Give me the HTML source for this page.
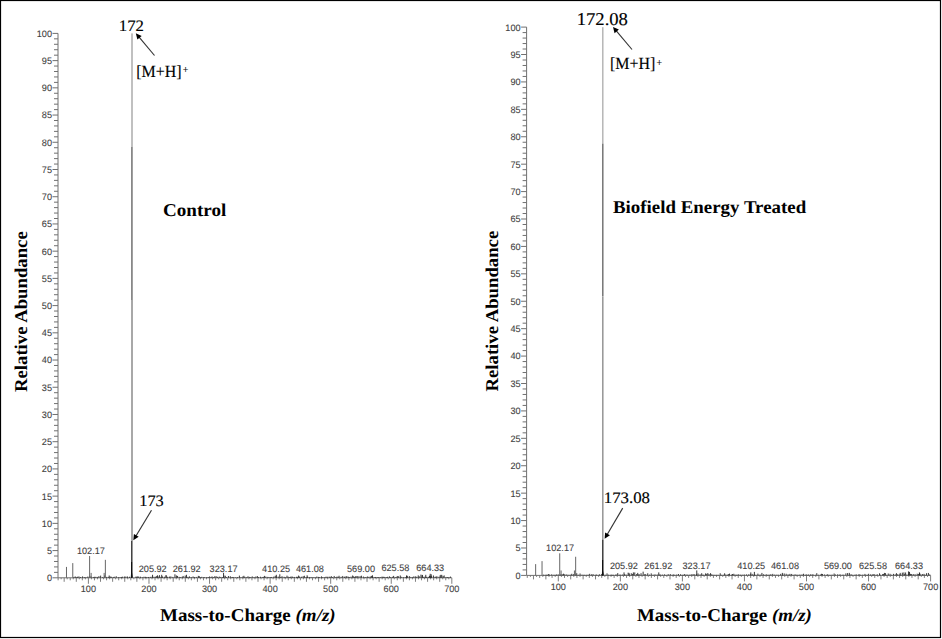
<!DOCTYPE html>
<html><head><meta charset="utf-8"><title>Mass spectra</title>
<style>
html,body{margin:0;padding:0;background:#fff;}
body{width:942px;height:639px;overflow:hidden;position:relative;}
svg{position:absolute;left:0;top:0;display:block;text-rendering:geometricPrecision;}
</style></head><body>
<svg width="942" height="639" viewBox="0 0 942 639">
<rect x="0" y="0" width="942" height="639" fill="#fff"/>
<rect x="0.5" y="0.5" width="940" height="637" fill="none" stroke="#000" stroke-width="1.2"/>
<line x1="58" y1="33.4" x2="58" y2="577.8" stroke="#707070" stroke-width="1"/>
<path d="M52.5 577.8H58M54 572.36H58M54 566.91H58M54 561.47H58M54 556.02H58M52.5 550.58H58M54 545.14H58M54 539.69H58M54 534.25H58M54 528.8H58M52.5 523.36H58M54 517.92H58M54 512.47H58M54 507.03H58M54 501.58H58M52.5 496.14H58M54 490.7H58M54 485.25H58M54 479.81H58M54 474.36H58M52.5 468.92H58M54 463.48H58M54 458.03H58M54 452.59H58M54 447.14H58M52.5 441.7H58M54 436.26H58M54 430.81H58M54 425.37H58M54 419.92H58M52.5 414.48H58M54 409.04H58M54 403.59H58M54 398.15H58M54 392.7H58M52.5 387.26H58M54 381.82H58M54 376.37H58M54 370.93H58M54 365.48H58M52.5 360.04H58M54 354.6H58M54 349.15H58M54 343.71H58M54 338.26H58M52.5 332.82H58M54 327.38H58M54 321.93H58M54 316.49H58M54 311.04H58M52.5 305.6H58M54 300.16H58M54 294.71H58M54 289.27H58M54 283.82H58M52.5 278.38H58M54 272.94H58M54 267.49H58M54 262.05H58M54 256.6H58M52.5 251.16H58M54 245.72H58M54 240.27H58M54 234.83H58M54 229.38H58M52.5 223.94H58M54 218.5H58M54 213.05H58M54 207.61H58M54 202.16H58M52.5 196.72H58M54 191.28H58M54 185.83H58M54 180.39H58M54 174.94H58M52.5 169.5H58M54 164.06H58M54 158.61H58M54 153.17H58M54 147.72H58M52.5 142.28H58M54 136.84H58M54 131.39H58M54 125.95H58M54 120.5H58M52.5 115.06H58M54 109.62H58M54 104.17H58M54 98.73H58M54 93.28H58M52.5 87.84H58M54 82.4H58M54 76.95H58M54 71.51H58M54 66.06H58M52.5 60.62H58M54 55.18H58M54 49.73H58M54 44.29H58M54 38.84H58M52.5 33.4H58" stroke="#707070" stroke-width="1" fill="none"/>
<text transform="translate(52 581.2) scale(0.976 1)" font-family="'Liberation Sans', Arial, sans-serif" font-size="9.4" fill="#404040" text-anchor="end" stroke="#444" stroke-width="0.1">0</text><text transform="translate(52 553.98) scale(0.976 1)" font-family="'Liberation Sans', Arial, sans-serif" font-size="9.4" fill="#404040" text-anchor="end" stroke="#444" stroke-width="0.1">5</text><text transform="translate(52 526.76) scale(0.976 1)" font-family="'Liberation Sans', Arial, sans-serif" font-size="9.4" fill="#404040" text-anchor="end" stroke="#444" stroke-width="0.1">10</text><text transform="translate(52 499.54) scale(0.976 1)" font-family="'Liberation Sans', Arial, sans-serif" font-size="9.4" fill="#404040" text-anchor="end" stroke="#444" stroke-width="0.1">15</text><text transform="translate(52 472.32) scale(0.976 1)" font-family="'Liberation Sans', Arial, sans-serif" font-size="9.4" fill="#404040" text-anchor="end" stroke="#444" stroke-width="0.1">20</text><text transform="translate(52 445.1) scale(0.976 1)" font-family="'Liberation Sans', Arial, sans-serif" font-size="9.4" fill="#404040" text-anchor="end" stroke="#444" stroke-width="0.1">25</text><text transform="translate(52 417.88) scale(0.976 1)" font-family="'Liberation Sans', Arial, sans-serif" font-size="9.4" fill="#404040" text-anchor="end" stroke="#444" stroke-width="0.1">30</text><text transform="translate(52 390.66) scale(0.976 1)" font-family="'Liberation Sans', Arial, sans-serif" font-size="9.4" fill="#404040" text-anchor="end" stroke="#444" stroke-width="0.1">35</text><text transform="translate(52 363.44) scale(0.976 1)" font-family="'Liberation Sans', Arial, sans-serif" font-size="9.4" fill="#404040" text-anchor="end" stroke="#444" stroke-width="0.1">40</text><text transform="translate(52 336.22) scale(0.976 1)" font-family="'Liberation Sans', Arial, sans-serif" font-size="9.4" fill="#404040" text-anchor="end" stroke="#444" stroke-width="0.1">45</text><text transform="translate(52 309) scale(0.976 1)" font-family="'Liberation Sans', Arial, sans-serif" font-size="9.4" fill="#404040" text-anchor="end" stroke="#444" stroke-width="0.1">50</text><text transform="translate(52 281.78) scale(0.976 1)" font-family="'Liberation Sans', Arial, sans-serif" font-size="9.4" fill="#404040" text-anchor="end" stroke="#444" stroke-width="0.1">55</text><text transform="translate(52 254.56) scale(0.976 1)" font-family="'Liberation Sans', Arial, sans-serif" font-size="9.4" fill="#404040" text-anchor="end" stroke="#444" stroke-width="0.1">60</text><text transform="translate(52 227.34) scale(0.976 1)" font-family="'Liberation Sans', Arial, sans-serif" font-size="9.4" fill="#404040" text-anchor="end" stroke="#444" stroke-width="0.1">65</text><text transform="translate(52 200.12) scale(0.976 1)" font-family="'Liberation Sans', Arial, sans-serif" font-size="9.4" fill="#404040" text-anchor="end" stroke="#444" stroke-width="0.1">70</text><text transform="translate(52 172.9) scale(0.976 1)" font-family="'Liberation Sans', Arial, sans-serif" font-size="9.4" fill="#404040" text-anchor="end" stroke="#444" stroke-width="0.1">75</text><text transform="translate(52 145.68) scale(0.976 1)" font-family="'Liberation Sans', Arial, sans-serif" font-size="9.4" fill="#404040" text-anchor="end" stroke="#444" stroke-width="0.1">80</text><text transform="translate(52 118.46) scale(0.976 1)" font-family="'Liberation Sans', Arial, sans-serif" font-size="9.4" fill="#404040" text-anchor="end" stroke="#444" stroke-width="0.1">85</text><text transform="translate(52 91.24) scale(0.976 1)" font-family="'Liberation Sans', Arial, sans-serif" font-size="9.4" fill="#404040" text-anchor="end" stroke="#444" stroke-width="0.1">90</text><text transform="translate(52 64.02) scale(0.976 1)" font-family="'Liberation Sans', Arial, sans-serif" font-size="9.4" fill="#404040" text-anchor="end" stroke="#444" stroke-width="0.1">95</text><text transform="translate(52 36.8) scale(0.976 1)" font-family="'Liberation Sans', Arial, sans-serif" font-size="9.4" fill="#404040" text-anchor="end" stroke="#444" stroke-width="0.1">100</text>
<line x1="58" y1="577.8" x2="451.82" y2="577.8" stroke="#707070" stroke-width="1"/>
<path d="M58.12 577.8V580.3M61.14 577.8V579.3M64.17 577.8V581.8M67.2 577.8V579.3M70.23 577.8V580.3M73.26 577.8V579.3M76.29 577.8V581.8M79.31 577.8V579.3M82.34 577.8V580.3M85.37 577.8V579.3M88.4 577.8V583.8M91.43 577.8V579.3M94.46 577.8V580.3M97.49 577.8V579.3M100.51 577.8V581.8M103.54 577.8V579.3M106.57 577.8V580.3M109.6 577.8V579.3M112.63 577.8V581.8M115.66 577.8V579.3M118.69 577.8V580.3M121.71 577.8V579.3M124.74 577.8V581.8M127.77 577.8V579.3M130.8 577.8V580.3M133.83 577.8V579.3M136.86 577.8V581.8M139.88 577.8V579.3M142.91 577.8V580.3M145.94 577.8V579.3M148.97 577.8V583.8M152 577.8V579.3M155.03 577.8V580.3M158.06 577.8V579.3M161.08 577.8V581.8M164.11 577.8V579.3M167.14 577.8V580.3M170.17 577.8V579.3M173.2 577.8V581.8M176.23 577.8V579.3M179.25 577.8V580.3M182.28 577.8V579.3M185.31 577.8V581.8M188.34 577.8V579.3M191.37 577.8V580.3M194.4 577.8V579.3M197.43 577.8V581.8M200.45 577.8V579.3M203.48 577.8V580.3M206.51 577.8V579.3M209.54 577.8V583.8M212.57 577.8V579.3M215.6 577.8V580.3M218.63 577.8V579.3M221.65 577.8V581.8M224.68 577.8V579.3M227.71 577.8V580.3M230.74 577.8V579.3M233.77 577.8V581.8M236.8 577.8V579.3M239.83 577.8V580.3M242.85 577.8V579.3M245.88 577.8V581.8M248.91 577.8V579.3M251.94 577.8V580.3M254.97 577.8V579.3M258 577.8V581.8M261.02 577.8V579.3M264.05 577.8V580.3M267.08 577.8V579.3M270.11 577.8V583.8M273.14 577.8V579.3M276.17 577.8V580.3M279.2 577.8V579.3M282.22 577.8V581.8M285.25 577.8V579.3M288.28 577.8V580.3M291.31 577.8V579.3M294.34 577.8V581.8M297.37 577.8V579.3M300.39 577.8V580.3M303.42 577.8V579.3M306.45 577.8V581.8M309.48 577.8V579.3M312.51 577.8V580.3M315.54 577.8V579.3M318.57 577.8V581.8M321.59 577.8V579.3M324.62 577.8V580.3M327.65 577.8V579.3M330.68 577.8V583.8M333.71 577.8V579.3M336.74 577.8V580.3M339.77 577.8V579.3M342.79 577.8V581.8M345.82 577.8V579.3M348.85 577.8V580.3M351.88 577.8V579.3M354.91 577.8V581.8M357.94 577.8V579.3M360.97 577.8V580.3M363.99 577.8V579.3M367.02 577.8V581.8M370.05 577.8V579.3M373.08 577.8V580.3M376.11 577.8V579.3M379.14 577.8V581.8M382.16 577.8V579.3M385.19 577.8V580.3M388.22 577.8V579.3M391.25 577.8V583.8M394.28 577.8V579.3M397.31 577.8V580.3M400.34 577.8V579.3M403.36 577.8V581.8M406.39 577.8V579.3M409.42 577.8V580.3M412.45 577.8V579.3M415.48 577.8V581.8M418.51 577.8V579.3M421.53 577.8V580.3M424.56 577.8V579.3M427.59 577.8V581.8M430.62 577.8V579.3M433.65 577.8V580.3M436.68 577.8V579.3M439.71 577.8V581.8M442.73 577.8V579.3M445.76 577.8V580.3M448.79 577.8V579.3M451.82 577.8V583.8" stroke="#707070" stroke-width="0.9" fill="none"/>
<text transform="translate(88.4 592.4) scale(0.976 1)" font-family="'Liberation Sans', Arial, sans-serif" font-size="9.4" fill="#404040" text-anchor="middle" stroke="#444" stroke-width="0.1">100</text><text transform="translate(148.97 592.4) scale(0.976 1)" font-family="'Liberation Sans', Arial, sans-serif" font-size="9.4" fill="#404040" text-anchor="middle" stroke="#444" stroke-width="0.1">200</text><text transform="translate(209.54 592.4) scale(0.976 1)" font-family="'Liberation Sans', Arial, sans-serif" font-size="9.4" fill="#404040" text-anchor="middle" stroke="#444" stroke-width="0.1">300</text><text transform="translate(270.11 592.4) scale(0.976 1)" font-family="'Liberation Sans', Arial, sans-serif" font-size="9.4" fill="#404040" text-anchor="middle" stroke="#444" stroke-width="0.1">400</text><text transform="translate(330.68 592.4) scale(0.976 1)" font-family="'Liberation Sans', Arial, sans-serif" font-size="9.4" fill="#404040" text-anchor="middle" stroke="#444" stroke-width="0.1">500</text><text transform="translate(391.25 592.4) scale(0.976 1)" font-family="'Liberation Sans', Arial, sans-serif" font-size="9.4" fill="#404040" text-anchor="middle" stroke="#444" stroke-width="0.1">600</text><text transform="translate(451.82 592.4) scale(0.976 1)" font-family="'Liberation Sans', Arial, sans-serif" font-size="9.4" fill="#404040" text-anchor="middle" stroke="#444" stroke-width="0.1">700</text>
<path d="M73.86 577.8V576.94M75.22 577.8V576.44M76.21 577.8V577.18M77.43 577.8V576.73M78.91 577.8V576.4M80.59 577.8V577.01M82.55 577.8V576.42M84.27 577.8V577.1M85.9 577.8V577.18M87.86 577.8V576.52M89.83 577.8V575.88M91.22 577.8V576.49M93.26 577.8V577.03M94.33 577.8V576.78M95.77 577.8V576.82M97.29 577.8V576.93M98.91 577.8V576.14M100.64 577.8V575.61M102.75 577.8V576.98M104.7 577.8V575.45M106.3 577.8V576.9M108.22 577.8V576.87M109.2 577.8V575.51M110.22 577.8V576.54M111.31 577.8V576.75M113.27 577.8V577.15M114.24 577.8V576.72M116.21 577.8V576.21M118.33 577.8V577.15M119.97 577.8V577.19M121.37 577.8V577.01M122.33 577.8V576.66M124.4 577.8V576.52M125.87 577.8V576.53M127.5 577.8V576.51M129.54 577.8V576.76M135.89 577.8V576.63M136.81 577.8V576.72M137.74 577.8V576.42M138.72 577.8V576.62M140.46 577.8V576.7M142.26 577.8V577.2M143.99 577.8V576.72M145.45 577.8V576.82M146.8 577.8V576.97M148.43 577.8V576.97M150.27 577.8V576.85M152.07 577.8V576.69M153.95 577.8V576.77M155.39 577.8V576.69M156.69 577.8V576.07M158.13 577.8V576.47M159.44 577.8V575.17M160.9 577.8V576.82M162.45 577.8V576.44M164.37 577.8V576.75M166.26 577.8V575.35M167.59 577.8V576.79M169.46 577.8V576.62M170.87 577.8V576.38M172.89 577.8V576.9M174.94 577.8V574.29M176.38 577.8V575.44M177.56 577.8V575.95M179.27 577.8V576.9M180.59 577.8V577.17M182.21 577.8V576.73M183.17 577.8V575.95M185.2 577.8V575.59M186.81 577.8V577.18M187.93 577.8V576.8M189.47 577.8V576.42M191.12 577.8V577.03M193.07 577.8V576.45M194.41 577.8V576.99M196.31 577.8V576.93M198.33 577.8V575.87M199.25 577.8V576.12M200.22 577.8V577.05M201.77 577.8V576.8M203.61 577.8V577.2M204.68 577.8V577.18M206.77 577.8V577.05M208.28 577.8V577M209.62 577.8V576.44M210.96 577.8V577.07M212.02 577.8V576.4M213.39 577.8V577.17M214.75 577.8V576.25M216.12 577.8V576.2M217.55 577.8V576.83M219.31 577.8V576.62M220.78 577.8V576.94M222.53 577.8V577.14M223.95 577.8V575.55M225.32 577.8V575.78M226.54 577.8V577.09M228.44 577.8V576.02M230.3 577.8V576.22M231.9 577.8V577.08M232.81 577.8V576.98M233.77 577.8V577.18M235.75 577.8V577.19M237.68 577.8V577M239.4 577.8V575.61M241.01 577.8V577.14M242.85 577.8V576.47M243.89 577.8V575.8M244.87 577.8V576.83M246.78 577.8V577.11M247.99 577.8V576.27M249.38 577.8V576.91M250.71 577.8V577.13M252.22 577.8V576.4M254.04 577.8V576.98M255.86 577.8V576.5M257.36 577.8V576.05M258.45 577.8V577.06M260.47 577.8V576.74M262.25 577.8V577.1M263.4 577.8V576.83M264.59 577.8V575.88M265.85 577.8V576.62M267.79 577.8V576.89M268.97 577.8V577.18M270.34 577.8V577.08M271.64 577.8V576.98M273.75 577.8V576.63M275.22 577.8V575.83M276.81 577.8V576.51M278.75 577.8V576.61M280.82 577.8V576.99M282.02 577.8V576.23M284.09 577.8V576.79M285.23 577.8V577.1M286.99 577.8V575.65M288.21 577.8V576.66M289.63 577.8V577.07M290.65 577.8V576.71M291.99 577.8V576.42M292.9 577.8V576.91M294.4 577.8V576.95M296.47 577.8V576.77M297.52 577.8V576.83M298.57 577.8V575.59M299.59 577.8V576.5M301.44 577.8V576.75M303.16 577.8V576.15M304.39 577.8V575.75M306.12 577.8V577.08M307.62 577.8V576.69M309.35 577.8V576.99M311.05 577.8V576.97M313.03 577.8V577.04M315.07 577.8V577.11M316.85 577.8V576.54M318.54 577.8V576.91M319.67 577.8V577.1M321.49 577.8V576.4M322.83 577.8V577M324.8 577.8V577.16M326.01 577.8V576.66M327.32 577.8V576.76M329.16 577.8V576.6M330.2 577.8V577.15M331.25 577.8V576.07M332.38 577.8V577.04M334.19 577.8V575.98M335.82 577.8V577.08M336.96 577.8V576.6M338.11 577.8V576.81M339.06 577.8V575.77M341.12 577.8V576.78M342.73 577.8V575.96M344.47 577.8V576.69M345.97 577.8V576.33M346.88 577.8V576.18M348.38 577.8V576.72M349.53 577.8V577.16M351.04 577.8V576.63M352.63 577.8V575.49M353.71 577.8V576.21M354.68 577.8V577.03M355.68 577.8V576.2M356.98 577.8V575.99M358.05 577.8V576.17M360.08 577.8V576.14M361.41 577.8V575.7M363.36 577.8V576.54M364.86 577.8V577.19M365.86 577.8V577.14M367.37 577.8V576.45M368.79 577.8V576.8M370.26 577.8V576.59M371.39 577.8V575.91M372.74 577.8V576.81M374.37 577.8V577.2M375.53 577.8V576.98M377 577.8V577.12M378.12 577.8V577.06M379.06 577.8V577.16M380.56 577.8V577.2M382.01 577.8V576.63M382.98 577.8V576.88M383.92 577.8V576.78M384.94 577.8V577.04M386.61 577.8V577.11M387.58 577.8V576.8M389.44 577.8V576.33M390.71 577.8V577.07M392.61 577.8V576.77M393.63 577.8V575.88M395.26 577.8V577.2M396.28 577.8V577.19M397.25 577.8V576.02M398.4 577.8V576.27M400.28 577.8V575.48M401.23 577.8V576.83M403.29 577.8V577.15M405.23 577.8V577.11M406.54 577.8V575.94M407.66 577.8V576.11M409.58 577.8V576.18M410.93 577.8V577.01M412.78 577.8V576.94M413.9 577.8V576.33M415.67 577.8V576.33M416.76 577.8V576.85M418.24 577.8V575.36M419.26 577.8V576.3M420.95 577.8V574.6M422.4 577.8V574.93M423.71 577.8V576.82M425.11 577.8V576.6M426.7 577.8V576.87M428.4 577.8V576.86M429.49 577.8V575.77M430.42 577.8V576.23M431.59 577.8V576.19M433.45 577.8V575.47M435 577.8V576.8M436.01 577.8V576.62M436.94 577.8V576.32M438.94 577.8V576.78M440.11 577.8V575.37M441.8 577.8V574.91M443.13 577.8V576.09M444.17 577.8V575.41M446.07 577.8V576.98M447.54 577.8V577.09M448.86 577.8V577.13M450.44 577.8V576.58M152.56 577.8V574.8M157.45 577.8V575.3M161.69 577.8V574.8M165.93 577.8V575.3M186.47 577.8V574.8M223.57 577.8V572.8M276.32 577.8V574.8M279.8 577.8V574.3M307.11 577.8V575.3M372.47 577.8V575.3M406.74 577.8V575.3M422.14 577.8V575.3M425.77 577.8V574.8M430.21 577.8V573.8M431.23 577.8V574.3M440.92 577.8V574.8" stroke="#222" stroke-width="0.9" fill="none"/>
<path d="M66.47 577.8V566.91M72.77 577.8V563.1M89.61 577.8V556.02M105.36 577.8V559.83M91.13 577.8V572.9M104.15 577.8V572.9" stroke="#666" stroke-width="1" fill="none"/>
<line x1="131.5" y1="33.4" x2="131.5" y2="147" stroke="#c0c0c0" stroke-width="1"/>
<line x1="132.5" y1="33.4" x2="132.5" y2="147" stroke="#c0c0c0" stroke-width="1"/>
<line x1="131.5" y1="147" x2="131.5" y2="300" stroke="#888" stroke-width="1"/>
<line x1="132.5" y1="147" x2="132.5" y2="300" stroke="#a0a0a0" stroke-width="1"/>
<line x1="131.5" y1="300" x2="131.5" y2="541" stroke="#a8a8a8" stroke-width="1"/>
<line x1="132.5" y1="300" x2="132.5" y2="541" stroke="#a8a8a8" stroke-width="1"/>
<line x1="131.5" y1="541" x2="131.5" y2="562" stroke="#444" stroke-width="1"/>
<line x1="132.5" y1="541" x2="132.5" y2="562" stroke="#999" stroke-width="1"/>
<line x1="131.5" y1="562" x2="131.5" y2="577.8" stroke="#111" stroke-width="1"/>
<line x1="132.5" y1="562" x2="132.5" y2="577.8" stroke="#888" stroke-width="1"/>
<polygon points="131.1,572.8 132,572.8 132.9,577.8 130.8,577.8" fill="#111"/>
<text transform="translate(76.9 553.6) scale(0.976 1)" font-family="'Liberation Sans', Arial, sans-serif" font-size="9.4" fill="#404040" stroke="#444" stroke-width="0.1">102.17</text><text transform="translate(138.7 572) scale(0.976 1)" font-family="'Liberation Sans', Arial, sans-serif" font-size="9.4" fill="#404040" stroke="#444" stroke-width="0.1">205.92</text><text transform="translate(172.7 572) scale(0.976 1)" font-family="'Liberation Sans', Arial, sans-serif" font-size="9.4" fill="#404040" stroke="#444" stroke-width="0.1">261.92</text><text transform="translate(209.6 572) scale(0.976 1)" font-family="'Liberation Sans', Arial, sans-serif" font-size="9.4" fill="#404040" stroke="#444" stroke-width="0.1">323.17</text><text transform="translate(262.1 572) scale(0.976 1)" font-family="'Liberation Sans', Arial, sans-serif" font-size="9.4" fill="#404040" stroke="#444" stroke-width="0.1">410.25</text><text transform="translate(295.9 572) scale(0.976 1)" font-family="'Liberation Sans', Arial, sans-serif" font-size="9.4" fill="#404040" stroke="#444" stroke-width="0.1">461.08</text><text transform="translate(347 572) scale(0.976 1)" font-family="'Liberation Sans', Arial, sans-serif" font-size="9.4" fill="#404040" stroke="#444" stroke-width="0.1">569.00</text><text transform="translate(381.4 571.2) scale(0.976 1)" font-family="'Liberation Sans', Arial, sans-serif" font-size="9.4" fill="#404040" stroke="#444" stroke-width="0.1">625.58</text><text transform="translate(416.2 571.2) scale(0.976 1)" font-family="'Liberation Sans', Arial, sans-serif" font-size="9.4" fill="#404040" stroke="#444" stroke-width="0.1">664.33</text>
<line x1="526.6" y1="27.1" x2="526.6" y2="575.4" stroke="#707070" stroke-width="1"/>
<path d="M521.1 575.4H526.6M522.6 569.92H526.6M522.6 564.43H526.6M522.6 558.95H526.6M522.6 553.47H526.6M521.1 547.99H526.6M522.6 542.5H526.6M522.6 537.02H526.6M522.6 531.54H526.6M522.6 526.05H526.6M521.1 520.57H526.6M522.6 515.09H526.6M522.6 509.6H526.6M522.6 504.12H526.6M522.6 498.64H526.6M521.1 493.15H526.6M522.6 487.67H526.6M522.6 482.19H526.6M522.6 476.71H526.6M522.6 471.22H526.6M521.1 465.74H526.6M522.6 460.26H526.6M522.6 454.77H526.6M522.6 449.29H526.6M522.6 443.81H526.6M521.1 438.32H526.6M522.6 432.84H526.6M522.6 427.36H526.6M522.6 421.88H526.6M522.6 416.39H526.6M521.1 410.91H526.6M522.6 405.43H526.6M522.6 399.94H526.6M522.6 394.46H526.6M522.6 388.98H526.6M521.1 383.5H526.6M522.6 378.01H526.6M522.6 372.53H526.6M522.6 367.05H526.6M522.6 361.56H526.6M521.1 356.08H526.6M522.6 350.6H526.6M522.6 345.11H526.6M522.6 339.63H526.6M522.6 334.15H526.6M521.1 328.66H526.6M522.6 323.18H526.6M522.6 317.7H526.6M522.6 312.22H526.6M522.6 306.73H526.6M521.1 301.25H526.6M522.6 295.77H526.6M522.6 290.28H526.6M522.6 284.8H526.6M522.6 279.32H526.6M521.1 273.83H526.6M522.6 268.35H526.6M522.6 262.87H526.6M522.6 257.39H526.6M522.6 251.9H526.6M521.1 246.42H526.6M522.6 240.94H526.6M522.6 235.45H526.6M522.6 229.97H526.6M522.6 224.49H526.6M521.1 219H526.6M522.6 213.52H526.6M522.6 208.04H526.6M522.6 202.56H526.6M522.6 197.07H526.6M521.1 191.59H526.6M522.6 186.11H526.6M522.6 180.62H526.6M522.6 175.14H526.6M522.6 169.66H526.6M521.1 164.18H526.6M522.6 158.69H526.6M522.6 153.21H526.6M522.6 147.73H526.6M522.6 142.24H526.6M521.1 136.76H526.6M522.6 131.28H526.6M522.6 125.79H526.6M522.6 120.31H526.6M522.6 114.83H526.6M521.1 109.35H526.6M522.6 103.86H526.6M522.6 98.38H526.6M522.6 92.9H526.6M522.6 87.41H526.6M521.1 81.93H526.6M522.6 76.45H526.6M522.6 70.96H526.6M522.6 65.48H526.6M522.6 60H526.6M521.1 54.51H526.6M522.6 49.03H526.6M522.6 43.55H526.6M522.6 38.07H526.6M522.6 32.58H526.6M521.1 27.1H526.6" stroke="#707070" stroke-width="1" fill="none"/>
<text transform="translate(520.6 578.8) scale(0.976 1)" font-family="'Liberation Sans', Arial, sans-serif" font-size="9.4" fill="#404040" text-anchor="end" stroke="#444" stroke-width="0.1">0</text><text transform="translate(520.6 551.38) scale(0.976 1)" font-family="'Liberation Sans', Arial, sans-serif" font-size="9.4" fill="#404040" text-anchor="end" stroke="#444" stroke-width="0.1">5</text><text transform="translate(520.6 523.97) scale(0.976 1)" font-family="'Liberation Sans', Arial, sans-serif" font-size="9.4" fill="#404040" text-anchor="end" stroke="#444" stroke-width="0.1">10</text><text transform="translate(520.6 496.55) scale(0.976 1)" font-family="'Liberation Sans', Arial, sans-serif" font-size="9.4" fill="#404040" text-anchor="end" stroke="#444" stroke-width="0.1">15</text><text transform="translate(520.6 469.14) scale(0.976 1)" font-family="'Liberation Sans', Arial, sans-serif" font-size="9.4" fill="#404040" text-anchor="end" stroke="#444" stroke-width="0.1">20</text><text transform="translate(520.6 441.72) scale(0.976 1)" font-family="'Liberation Sans', Arial, sans-serif" font-size="9.4" fill="#404040" text-anchor="end" stroke="#444" stroke-width="0.1">25</text><text transform="translate(520.6 414.31) scale(0.976 1)" font-family="'Liberation Sans', Arial, sans-serif" font-size="9.4" fill="#404040" text-anchor="end" stroke="#444" stroke-width="0.1">30</text><text transform="translate(520.6 386.89) scale(0.976 1)" font-family="'Liberation Sans', Arial, sans-serif" font-size="9.4" fill="#404040" text-anchor="end" stroke="#444" stroke-width="0.1">35</text><text transform="translate(520.6 359.48) scale(0.976 1)" font-family="'Liberation Sans', Arial, sans-serif" font-size="9.4" fill="#404040" text-anchor="end" stroke="#444" stroke-width="0.1">40</text><text transform="translate(520.6 332.06) scale(0.976 1)" font-family="'Liberation Sans', Arial, sans-serif" font-size="9.4" fill="#404040" text-anchor="end" stroke="#444" stroke-width="0.1">45</text><text transform="translate(520.6 304.65) scale(0.976 1)" font-family="'Liberation Sans', Arial, sans-serif" font-size="9.4" fill="#404040" text-anchor="end" stroke="#444" stroke-width="0.1">50</text><text transform="translate(520.6 277.23) scale(0.976 1)" font-family="'Liberation Sans', Arial, sans-serif" font-size="9.4" fill="#404040" text-anchor="end" stroke="#444" stroke-width="0.1">55</text><text transform="translate(520.6 249.82) scale(0.976 1)" font-family="'Liberation Sans', Arial, sans-serif" font-size="9.4" fill="#404040" text-anchor="end" stroke="#444" stroke-width="0.1">60</text><text transform="translate(520.6 222.41) scale(0.976 1)" font-family="'Liberation Sans', Arial, sans-serif" font-size="9.4" fill="#404040" text-anchor="end" stroke="#444" stroke-width="0.1">65</text><text transform="translate(520.6 194.99) scale(0.976 1)" font-family="'Liberation Sans', Arial, sans-serif" font-size="9.4" fill="#404040" text-anchor="end" stroke="#444" stroke-width="0.1">70</text><text transform="translate(520.6 167.58) scale(0.976 1)" font-family="'Liberation Sans', Arial, sans-serif" font-size="9.4" fill="#404040" text-anchor="end" stroke="#444" stroke-width="0.1">75</text><text transform="translate(520.6 140.16) scale(0.976 1)" font-family="'Liberation Sans', Arial, sans-serif" font-size="9.4" fill="#404040" text-anchor="end" stroke="#444" stroke-width="0.1">80</text><text transform="translate(520.6 112.75) scale(0.976 1)" font-family="'Liberation Sans', Arial, sans-serif" font-size="9.4" fill="#404040" text-anchor="end" stroke="#444" stroke-width="0.1">85</text><text transform="translate(520.6 85.33) scale(0.976 1)" font-family="'Liberation Sans', Arial, sans-serif" font-size="9.4" fill="#404040" text-anchor="end" stroke="#444" stroke-width="0.1">90</text><text transform="translate(520.6 57.91) scale(0.976 1)" font-family="'Liberation Sans', Arial, sans-serif" font-size="9.4" fill="#404040" text-anchor="end" stroke="#444" stroke-width="0.1">95</text><text transform="translate(520.6 30.5) scale(0.976 1)" font-family="'Liberation Sans', Arial, sans-serif" font-size="9.4" fill="#404040" text-anchor="end" stroke="#444" stroke-width="0.1">100</text>
<line x1="526.6" y1="575.4" x2="930.6" y2="575.4" stroke="#707070" stroke-width="1"/>
<path d="M527.27 575.4V577.9M530.38 575.4V576.9M533.48 575.4V579.4M536.58 575.4V576.9M539.68 575.4V577.9M542.79 575.4V576.9M545.89 575.4V579.4M548.99 575.4V576.9M552.09 575.4V577.9M555.2 575.4V576.9M558.3 575.4V581.4M561.4 575.4V576.9M564.5 575.4V577.9M567.61 575.4V576.9M570.71 575.4V579.4M573.81 575.4V576.9M576.91 575.4V577.9M580.02 575.4V576.9M583.12 575.4V579.4M586.22 575.4V576.9M589.32 575.4V577.9M592.43 575.4V576.9M595.53 575.4V579.4M598.63 575.4V576.9M601.73 575.4V577.9M604.84 575.4V576.9M607.94 575.4V579.4M611.04 575.4V576.9M614.14 575.4V577.9M617.25 575.4V576.9M620.35 575.4V581.4M623.45 575.4V576.9M626.55 575.4V577.9M629.66 575.4V576.9M632.76 575.4V579.4M635.86 575.4V576.9M638.96 575.4V577.9M642.07 575.4V576.9M645.17 575.4V579.4M648.27 575.4V576.9M651.38 575.4V577.9M654.48 575.4V576.9M657.58 575.4V579.4M660.68 575.4V576.9M663.78 575.4V577.9M666.89 575.4V576.9M669.99 575.4V579.4M673.09 575.4V576.9M676.19 575.4V577.9M679.3 575.4V576.9M682.4 575.4V581.4M685.5 575.4V576.9M688.61 575.4V577.9M691.71 575.4V576.9M694.81 575.4V579.4M697.91 575.4V576.9M701.01 575.4V577.9M704.12 575.4V576.9M707.22 575.4V579.4M710.32 575.4V576.9M713.42 575.4V577.9M716.53 575.4V576.9M719.63 575.4V579.4M722.73 575.4V576.9M725.84 575.4V577.9M728.94 575.4V576.9M732.04 575.4V579.4M735.14 575.4V576.9M738.25 575.4V577.9M741.35 575.4V576.9M744.45 575.4V581.4M747.55 575.4V576.9M750.65 575.4V577.9M753.76 575.4V576.9M756.86 575.4V579.4M759.96 575.4V576.9M763.06 575.4V577.9M766.17 575.4V576.9M769.27 575.4V579.4M772.37 575.4V576.9M775.47 575.4V577.9M778.58 575.4V576.9M781.68 575.4V579.4M784.78 575.4V576.9M787.88 575.4V577.9M790.99 575.4V576.9M794.09 575.4V579.4M797.19 575.4V576.9M800.29 575.4V577.9M803.4 575.4V576.9M806.5 575.4V581.4M809.6 575.4V576.9M812.7 575.4V577.9M815.81 575.4V576.9M818.91 575.4V579.4M822.01 575.4V576.9M825.12 575.4V577.9M828.22 575.4V576.9M831.32 575.4V579.4M834.42 575.4V576.9M837.52 575.4V577.9M840.63 575.4V576.9M843.73 575.4V579.4M846.83 575.4V576.9M849.93 575.4V577.9M853.04 575.4V576.9M856.14 575.4V579.4M859.24 575.4V576.9M862.35 575.4V577.9M865.45 575.4V576.9M868.55 575.4V581.4M871.65 575.4V576.9M874.75 575.4V577.9M877.86 575.4V576.9M880.96 575.4V579.4M884.06 575.4V576.9M887.16 575.4V577.9M890.27 575.4V576.9M893.37 575.4V579.4M896.47 575.4V576.9M899.58 575.4V577.9M902.68 575.4V576.9M905.78 575.4V579.4M908.88 575.4V576.9M911.98 575.4V577.9M915.09 575.4V576.9M918.19 575.4V579.4M921.29 575.4V576.9M924.39 575.4V577.9M927.5 575.4V576.9M930.6 575.4V581.4" stroke="#707070" stroke-width="0.9" fill="none"/>
<text transform="translate(558.3 589.9) scale(0.976 1)" font-family="'Liberation Sans', Arial, sans-serif" font-size="9.4" fill="#404040" text-anchor="middle" stroke="#444" stroke-width="0.1">100</text><text transform="translate(620.35 589.9) scale(0.976 1)" font-family="'Liberation Sans', Arial, sans-serif" font-size="9.4" fill="#404040" text-anchor="middle" stroke="#444" stroke-width="0.1">200</text><text transform="translate(682.4 589.9) scale(0.976 1)" font-family="'Liberation Sans', Arial, sans-serif" font-size="9.4" fill="#404040" text-anchor="middle" stroke="#444" stroke-width="0.1">300</text><text transform="translate(744.45 589.9) scale(0.976 1)" font-family="'Liberation Sans', Arial, sans-serif" font-size="9.4" fill="#404040" text-anchor="middle" stroke="#444" stroke-width="0.1">400</text><text transform="translate(806.5 589.9) scale(0.976 1)" font-family="'Liberation Sans', Arial, sans-serif" font-size="9.4" fill="#404040" text-anchor="middle" stroke="#444" stroke-width="0.1">500</text><text transform="translate(868.55 589.9) scale(0.976 1)" font-family="'Liberation Sans', Arial, sans-serif" font-size="9.4" fill="#404040" text-anchor="middle" stroke="#444" stroke-width="0.1">600</text><text transform="translate(930.6 589.9) scale(0.976 1)" font-family="'Liberation Sans', Arial, sans-serif" font-size="9.4" fill="#404040" text-anchor="middle" stroke="#444" stroke-width="0.1">700</text>
<path d="M543.41 575.4V574.7M545.15 575.4V574.72M546.53 575.4V574.74M547.51 575.4V574.74M548.55 575.4V574.1M549.64 575.4V574.52M551.74 575.4V574.34M553.89 575.4V574.72M555.18 575.4V574.77M556.49 575.4V574.51M558.14 575.4V574.32M559.75 575.4V574.79M560.94 575.4V574.22M562.26 575.4V574.27M563.56 575.4V573.69M564.8 575.4V574.2M566.81 575.4V574.38M568.96 575.4V574.7M570.83 575.4V574.65M571.81 575.4V573.78M573.45 575.4V574.25M575.24 575.4V574.11M576.74 575.4V573.21M578.26 575.4V574.72M580.06 575.4V573.51M582.01 575.4V574.58M583.77 575.4V574.78M584.91 575.4V574.79M586.8 575.4V574.74M588.21 575.4V574.66M589.7 575.4V573.83M591.65 575.4V574.32M593.09 575.4V574.17M595.21 575.4V574.75M596.43 575.4V574.57M598.09 575.4V574.8M599.54 575.4V574.38M601.66 575.4V574.09M605.13 575.4V574.7M607.02 575.4V573.4M608.44 575.4V574.72M610.16 575.4V574.79M611.35 575.4V574.69M612.35 575.4V574.8M613.4 575.4V574.78M615.42 575.4V574.62M616.66 575.4V574.55M617.74 575.4V573.11M619.25 575.4V574.72M620.31 575.4V574.62M622.27 575.4V574.49M624.38 575.4V574.27M625.99 575.4V574.46M628.13 575.4V572.7M629.39 575.4V574.32M631.28 575.4V573.26M632.62 575.4V573.96M634.77 575.4V572.44M636.71 575.4V574M638.29 575.4V574.47M639.25 575.4V574.28M641.04 575.4V573.22M643.14 575.4V571.67M644.52 575.4V574.35M645.69 575.4V574.12M647.74 575.4V573.29M649.48 575.4V574.66M651.23 575.4V573.38M653.1 575.4V574.63M655.01 575.4V574.27M657.14 575.4V574.48M659.25 575.4V574.55M660.34 575.4V574.53M662.27 575.4V574.56M664.42 575.4V574.34M666.03 575.4V574.8M668.16 575.4V574.12M670.25 575.4V574.04M672.21 575.4V574.69M673.5 575.4V574.52M674.76 575.4V574.69M676.82 575.4V574.48M678.47 575.4V574.04M680.54 575.4V574.27M682.12 575.4V574.78M683.28 575.4V574.79M684.42 575.4V574.11M686.04 575.4V574.46M687.66 575.4V574.63M689.29 575.4V574.66M691.18 575.4V574.23M693.05 575.4V573.99M694.74 575.4V574.28M696.53 575.4V574.32M698.06 575.4V573.48M700.08 575.4V574.31M701.7 575.4V573.22M702.8 575.4V574.69M703.82 575.4V574.76M705.59 575.4V573.39M706.71 575.4V573.85M707.82 575.4V573.09M709.02 575.4V574.04M710.56 575.4V573.15M711.69 575.4V574.36M713.04 575.4V574.68M714.86 575.4V574.78M716.34 575.4V574.79M718.05 575.4V574.73M720.2 575.4V573.27M721.26 575.4V574.78M723.16 575.4V574.73M724.61 575.4V573.31M725.87 575.4V574.53M727.5 575.4V574.67M728.51 575.4V574.21M729.53 575.4V573.61M731.45 575.4V574.66M732.47 575.4V574.02M733.82 575.4V573.77M735.08 575.4V574.66M736.31 575.4V574.76M737.3 575.4V574.67M738.61 575.4V574.36M740.16 575.4V574.68M741.11 575.4V574.79M742.95 575.4V574.59M744.47 575.4V574.6M746.42 575.4V574.37M748.39 575.4V574.4M750.17 575.4V574.13M752.14 575.4V573.9M753.57 575.4V574.76M754.66 575.4V574.7M755.91 575.4V574.77M757.88 575.4V573.63M759.16 575.4V574.66M760.67 575.4V574.66M761.92 575.4V572.93M763.53 575.4V574.33M764.85 575.4V574.8M766.25 575.4V574.32M767.43 575.4V574.8M768.69 575.4V574.73M769.67 575.4V574.79M770.89 575.4V574.18M772.75 575.4V573.86M774.78 575.4V574.55M776.93 575.4V574.58M778.66 575.4V574.73M780.7 575.4V573.88M782.63 575.4V574.65M784.19 575.4V573.46M786.15 575.4V573.76M787.93 575.4V574.48M788.9 575.4V574.7M789.96 575.4V573.87M791.67 575.4V573.95M793.2 575.4V574.79M795.06 575.4V574.26M796.81 575.4V574.7M798.06 575.4V574.76M799.89 575.4V574.5M802.03 575.4V574.42M803.56 575.4V573.75M805.25 575.4V574.7M806.37 575.4V574.42M807.68 575.4V574.79M808.68 575.4V574.44M810.47 575.4V574.41M812.04 575.4V574.37M813.12 575.4V574.44M815.27 575.4V574.77M816.77 575.4V573.21M818.26 575.4V574.69M820.36 575.4V574.55M821.47 575.4V573.8M822.56 575.4V573.97M824.59 575.4V574.47M826.64 575.4V574.78M827.57 575.4V574.36M828.88 575.4V574.7M830.2 575.4V574.8M832.06 575.4V574.6M834.14 575.4V573.51M835.44 575.4V574.51M837.61 575.4V574.37M839.07 575.4V574.77M840.12 575.4V574.32M842.22 575.4V574.67M843.78 575.4V574.66M845.9 575.4V573.36M847.61 575.4V573.08M849.22 575.4V574.73M851.06 575.4V574.12M852.79 575.4V574.77M854.88 575.4V574.68M856.23 575.4V574.36M858.38 575.4V574.46M859.68 575.4V574.36M860.82 575.4V574.73M862.87 575.4V574.58M864.93 575.4V573.9M866.03 575.4V574.77M867.39 575.4V574.76M868.64 575.4V573.79M870.5 575.4V574.46M872.08 575.4V574.55M873.09 575.4V574.26M874.18 575.4V574.17M876.18 575.4V574.68M877.42 575.4V574.44M879.53 575.4V573.32M880.49 575.4V574.75M882.53 575.4V574.24M883.46 575.4V574.07M885.42 575.4V573.14M886.66 575.4V574.77M888.24 575.4V573.52M890.06 575.4V573.81M891.56 575.4V574.76M893.46 575.4V573.86M895.19 575.4V574.38M896.44 575.4V573.17M897.51 575.4V574.39M899.16 575.4V574.24M900.84 575.4V574.49M902.34 575.4V572.65M904.37 575.4V574.17M905.6 575.4V572.47M906.92 575.4V574.47M908.68 575.4V574.18M910.44 575.4V573.87M911.42 575.4V574.07M913.19 575.4V574.03M915.04 575.4V574.19M917.18 575.4V573.73M918.39 575.4V573.99M919.69 575.4V573.08M920.85 575.4V574.22M922.61 575.4V574.08M924.03 575.4V573.88M925.14 575.4V574.79M926.56 575.4V573.21M928.4 575.4V572.94M929.73 575.4V574.45M624.02 575.4V572.4M629.04 575.4V572.9M633.38 575.4V572.4M637.72 575.4V572.9M658.77 575.4V572.4M696.78 575.4V570.4M750.81 575.4V572.4M754.38 575.4V571.9M782.35 575.4V572.9M849.31 575.4V572.9M884.42 575.4V572.9M900.2 575.4V572.9M903.92 575.4V572.4M908.47 575.4V571.4M909.5 575.4V571.9M919.43 575.4V572.4" stroke="#222" stroke-width="0.9" fill="none"/>
<path d="M535.65 575.4V564.11M542.04 575.4V561.14M559.73 575.4V553.3M575.67 575.4V556.76M561.09 575.4V570.47M574.43 575.4V570.47" stroke="#666" stroke-width="1" fill="none"/>
<line x1="602.5" y1="27.2" x2="602.5" y2="143.5" stroke="#b8b8b8" stroke-width="1"/>
<line x1="603.5" y1="27.2" x2="603.5" y2="143.5" stroke="#d8d8d8" stroke-width="1"/>
<line x1="602.5" y1="143.5" x2="602.5" y2="296.5" stroke="#7a7a7a" stroke-width="1"/>
<line x1="603.5" y1="143.5" x2="603.5" y2="296.5" stroke="#b4b4b4" stroke-width="1"/>
<line x1="602.5" y1="296.5" x2="602.5" y2="539.5" stroke="#999" stroke-width="1"/>
<line x1="603.5" y1="296.5" x2="603.5" y2="539.5" stroke="#c4c4c4" stroke-width="1"/>
<line x1="602.5" y1="539.5" x2="602.5" y2="560" stroke="#444" stroke-width="1"/>
<line x1="603.5" y1="539.5" x2="603.5" y2="560" stroke="#999" stroke-width="1"/>
<line x1="602.5" y1="560" x2="602.5" y2="575.4" stroke="#111" stroke-width="1"/>
<line x1="603.5" y1="560" x2="603.5" y2="575.4" stroke="#888" stroke-width="1"/>
<polygon points="602.1,570.4 603,570.4 603.9,575.4 601.8,575.4" fill="#111"/>
<text transform="translate(546.1 550.5) scale(0.976 1)" font-family="'Liberation Sans', Arial, sans-serif" font-size="9.4" fill="#404040" stroke="#444" stroke-width="0.1">102.17</text><text transform="translate(609.9 569) scale(0.976 1)" font-family="'Liberation Sans', Arial, sans-serif" font-size="9.4" fill="#404040" stroke="#444" stroke-width="0.1">205.92</text><text transform="translate(644.3 569) scale(0.976 1)" font-family="'Liberation Sans', Arial, sans-serif" font-size="9.4" fill="#404040" stroke="#444" stroke-width="0.1">261.92</text><text transform="translate(682.5 569) scale(0.976 1)" font-family="'Liberation Sans', Arial, sans-serif" font-size="9.4" fill="#404040" stroke="#444" stroke-width="0.1">323.17</text><text transform="translate(737.2 569) scale(0.976 1)" font-family="'Liberation Sans', Arial, sans-serif" font-size="9.4" fill="#404040" stroke="#444" stroke-width="0.1">410.25</text><text transform="translate(771 569) scale(0.976 1)" font-family="'Liberation Sans', Arial, sans-serif" font-size="9.4" fill="#404040" stroke="#444" stroke-width="0.1">461.08</text><text transform="translate(823.9 569.4) scale(0.976 1)" font-family="'Liberation Sans', Arial, sans-serif" font-size="9.4" fill="#404040" stroke="#444" stroke-width="0.1">569.00</text><text transform="translate(859 568.8) scale(0.976 1)" font-family="'Liberation Sans', Arial, sans-serif" font-size="9.4" fill="#404040" stroke="#444" stroke-width="0.1">625.58</text><text transform="translate(895 568.8) scale(0.976 1)" font-family="'Liberation Sans', Arial, sans-serif" font-size="9.4" fill="#404040" stroke="#444" stroke-width="0.1">664.33</text>
<text transform="translate(118.8 30.8) scale(1.05 1)" font-family="'Liberation Serif', 'Times New Roman', serif" font-size="16" fill="#000" stroke="#000" stroke-width="0.15">172</text>
<line x1="154.5" y1="55.5" x2="138.89" y2="36.97" stroke="#333" stroke-width="1.15"/><polygon points="135.8,33.3 141.68,35.93 137.4,39.54" fill="#000"/>
<text transform="translate(136.2 76.7) scale(0.94 1)" font-family="'Liberation Serif', 'Times New Roman', serif" font-size="17" fill="#000" stroke="#000" stroke-width="0.15">[M+H]<tspan x="49.6" font-size="10.5" dy="-3.4">+</tspan></text>
<text transform="translate(163 215.5) scale(1.06 1)" font-family="'Liberation Serif', 'Times New Roman', serif" font-size="18" fill="#000" font-weight="bold">Control</text>
<text transform="translate(139.3 506.3) scale(1.02 1)" font-family="'Liberation Serif', 'Times New Roman', serif" font-size="16" fill="#000" stroke="#000" stroke-width="0.15">173</text>
<line x1="151.5" y1="510.3" x2="135.79" y2="536.2" stroke="#333" stroke-width="1.15"/><polygon points="133.3,540.3 133.91,533.89 138.7,536.79" fill="#000"/>
<text transform="translate(27 392) rotate(-90) scale(1.04 1)" font-family="'Liberation Serif', 'Times New Roman', serif" font-size="18" fill="#000" font-weight="bold">Relative Abundance</text>
<text transform="translate(160 620.8) scale(1.055 1)" font-family="'Liberation Serif', 'Times New Roman', serif" font-size="18" fill="#000" font-weight="bold">Mass-to-Charge <tspan font-style="italic">(m/z)</tspan></text>
<text transform="translate(576.7 25.3) scale(1.035 1)" font-family="'Liberation Serif', 'Times New Roman', serif" font-size="18" fill="#000" stroke="#000" stroke-width="0.15">172.08</text>
<line x1="632" y1="49.5" x2="616.1" y2="30.67" stroke="#333" stroke-width="1.15"/><polygon points="613,27 618.88,29.62 614.6,33.24" fill="#000"/>
<text transform="translate(610 69.4) scale(0.94 1)" font-family="'Liberation Serif', 'Times New Roman', serif" font-size="17" fill="#000" stroke="#000" stroke-width="0.15">[M+H]<tspan x="49.6" font-size="10.5" dy="-3.4">+</tspan></text>
<text transform="translate(613 213.4) scale(1.05 1)" font-family="'Liberation Serif', 'Times New Roman', serif" font-size="18" fill="#000" font-weight="bold">Biofield Energy Treated</text>
<text transform="translate(603.8 502.9) scale(1.05 1)" font-family="'Liberation Serif', 'Times New Roman', serif" font-size="16" fill="#000" stroke="#000" stroke-width="0.15">173.08</text>
<line x1="622.7" y1="508.1" x2="607.04" y2="534.67" stroke="#333" stroke-width="1.15"/><polygon points="604.6,538.8 605.13,532.38 609.96,535.23" fill="#000"/>
<text transform="translate(497.5 391.5) rotate(-90) scale(1.04 1)" font-family="'Liberation Serif', 'Times New Roman', serif" font-size="18" fill="#000" font-weight="bold">Relative Abundance</text>
<text transform="translate(637 620.6) scale(1.05 1)" font-family="'Liberation Serif', 'Times New Roman', serif" font-size="18" fill="#000" font-weight="bold">Mass-to-Charge <tspan font-style="italic">(m/z)</tspan></text>
</svg>
</body></html>
